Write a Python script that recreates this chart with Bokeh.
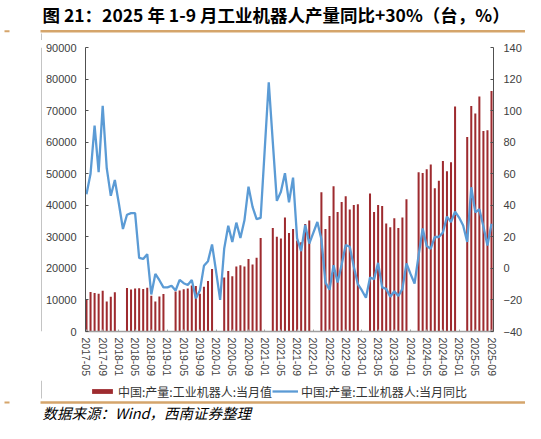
from bokeh.plotting import figure
from bokeh.layouts import column, row
from bokeh.models import (Range1d, LinearAxis, FixedTicker, Label, Legend, LegendItem,
                          ColumnDataSource, NumeralTickFormatter)
from bokeh.embed import file_html
from bokeh.resources import INLINE

nan = float("nan")

# 2017-05 ... 2025-09 (monthly); Jan/Feb have no monthly production value
output_units = [
    10100, 12500, 12200, 12000, 12900, 9500, 11000, 12400,              # 2017-05..12
    nan, nan, 13800, 13300, 13600, 13700, 13500, 13900, 11300, 9500, 11100, 11900,   # 2018
    nan, nan, 12700, 13000, 13400, 13600, 14600, 14400, 12000, 14200, 16000, 19800,  # 2019
    nan, nan, 17100, 19200, 17500, 20600, 21000, 20600, 23000, 21200, 23400, 29600,  # 2020
    nan, nan, 32800, 30000, 29500, 36100, 31200, 32500, 28800, 28300, 34100, 35200,  # 2021
    nan, nan, 44100, 32500, 36600, 46000, 37900, 41000, 42900, 38700, 40100, 40300,  # 2022
    nan, nan, 43700, 37900, 40100, 39800, 34200, 33000, 35900, 32800, 36100, 41900,  # 2023
    nan, nan, 50500, 50200, 51400, 52900, 45400, 47800, 54000, 50800, 53600, 71300,  # 2024
    nan, nan, 61600, 71500, 69100, 74500, 63500, 63800, 76200,                        # 2025
]

yoy_pct = [
    47, 60, 90.5, 61, 103, 63.5, 46, 56,
    41, 25, 34, 35, 35, 6.7, 6, 9, -16.5, -3.5, -7.5, -12,
    -12, -11, -14, -7.3, -9.4, -10.5, -7.3, -19, -14, 1.6, 4.6, 15.2,
    -2, -20, 12.5, 27, 16.7, 29, 19.3, 30.5, 51.8, 39, 31.2, 32,
    75, 118, 80, 42.8, 48.6, 60.3, 41.8, 57.5, 19, 11, 27.5, 15.7,
    22.5, 29.4, 18.5, -9, -13.5, 2, -9, 2.4, 14.8, 13.7, 1, -10,
    -14, -18.6, -5.8, -6.8, 3.5, -12, -13, -18, -14.5, -17.5, -13, 3.1,
    -3.5, -9.6, 8.2, 25.3, 14.2, 12.5, 19.9, 19.9, 22.8, 32.8, 29.4, 36,
    32.2, 27.2, 16.7, 51.4, 35.5, 37.5, 26.5, 14.5, 28.3,
]

tick_labels = [
    "2017-05", "2017-09", "2018-01", "2018-05", "2018-09", "2019-01", "2019-05",
    "2019-09", "2020-01", "2020-05", "2020-09", "2021-01", "2021-05", "2021-09",
    "2022-01", "2022-05", "2022-09", "2023-01", "2023-05", "2023-09", "2024-01",
    "2024-05", "2024-09", "2025-01", "2025-05", "2025-09",
]

title_text = "图 21：2025 年 1-9 月工业机器人产量同比+30%（台，%）"
source_text = "数据来源：Wind，西南证券整理"
bar_label = "中国:产量:工业机器人:当月值"
line_label = "中国:产量:工业机器人:当月同比"

BAR_COLOR = "#9E2B2F"
LINE_COLOR = "#5B9BD5"
TAN = "#D5A56B"
GRAY = "#C4C4C4"
CJK = "Noto Sans CJK SC"
TICK_FONT = "Liberation Sans"
LAB_COL = "#404040"

W = 525
TOP_H, MAIN_H, BOT_H, LEFT_W = 40, 340, 43, 42


def blank(width, height, y_top):
    f = figure(width=width, height=height, output_backend="svg", toolbar_location=None,
               title=None, x_axis_type=None, y_axis_type=None,
               x_range=Range1d(0, width), y_range=Range1d(y_top + height, y_top),
               min_border=0)
    f.outline_line_color = None
    f.xgrid.visible = False
    f.ygrid.visible = False
    f.background_fill_color = "white"
    f.border_fill_color = "white"
    return f


# ---- header strip: title and tan rule
top = blank(W, TOP_H, 0)
top.add_layout(Label(x=42, y=14, text=title_text, text_font=CJK, text_font_size="17.5px",
                     text_font_style="bold", text_color="black", text_baseline="middle",
                     text_align="left"))
top.segment(x0=[40], y0=[30.8], x1=[W], y1=[30.8], line_color=TAN, line_width=2.5)
top.segment(x0=[4], y0=[30.8], x1=[9], y1=[30.8], line_color=TAN, line_width=2)
top.segment(x0=[41], y0=[33], x1=[41], y1=[TOP_H], line_color=GRAY, line_width=1)

# ---- left strip: frame line
left = blank(LEFT_W, MAIN_H, TOP_H)
left.segment(x0=[41], y0=[TOP_H], x1=[41], y1=[TOP_H + MAIN_H], line_color=GRAY,
             line_width=1)

# ---- main chart
month_idx = list(range(len(output_units)))
src = ColumnDataSource(dict(x=month_idx, v=output_units, r=yoy_pct))

p = figure(width=W - LEFT_W, height=MAIN_H, output_backend="svg", toolbar_location=None,
           title=None, x_range=Range1d(-0.245, 100.49), y_range=Range1d(0, 90000),
           min_border_left=41, min_border_right=30, min_border_top=7, min_border_bottom=49)
p.outline_line_color = None
p.xgrid.visible = False
p.ygrid.visible = False
p.background_fill_color = "white"
p.border_fill_color = "white"
p.extra_y_ranges = {"yoy": Range1d(-40, 140)}

bars = p.vbar(x="x", top="v", width=0.5, source=src, fill_color=BAR_COLOR, line_color=None)
line = p.line(x="x", y="r", source=src, y_range_name="yoy", line_color=LINE_COLOR,
              line_width=2.3)

xa = p.xaxis[0]
xa.ticker = FixedTicker(ticks=list(range(0, 101, 4)))
xa.major_label_overrides = {i * 4: t for i, t in enumerate(tick_labels)}
xa.major_label_orientation = "vertical"
xa.major_label_text_font = TICK_FONT
xa.major_label_text_font_size = "10.5px"
xa.major_label_text_color = LAB_COL
xa.major_label_standoff = 6
xa.axis_line_color = "#A0A0A0"
xa.axis_line_width = 1.5
xa.major_tick_in = 2
xa.major_tick_out = 0
xa.major_tick_line_color = "#A0A0A0"
xa.minor_tick_line_color = None

ya = p.yaxis[0]
ya.ticker = FixedTicker(ticks=list(range(0, 90001, 10000)))
ya.formatter = NumeralTickFormatter(format="0")
ya.major_label_text_font = TICK_FONT
ya.major_label_text_font_size = "11px"
ya.major_label_text_color = LAB_COL
ya.major_label_standoff = 9
ya.axis_line_color = "#505050"
ya.major_tick_in = 3
ya.major_tick_out = 0
ya.major_tick_line_color = "#505050"
ya.minor_tick_line_color = None

ra = LinearAxis(y_range_name="yoy", ticker=FixedTicker(ticks=list(range(-40, 141, 20))))
ra.major_label_text_font = TICK_FONT
ra.major_label_text_font_size = "11px"
ra.major_label_text_color = LAB_COL
ra.major_label_standoff = 10
ra.axis_line_color = "#505050"
ra.major_tick_in = 3
ra.major_tick_out = 0
ra.major_tick_line_color = "#505050"
ra.minor_tick_line_color = None
p.add_layout(ra, "right")

# ---- footer strip: legend, tan rule, source
bot = blank(W, BOT_H, TOP_H + MAIN_H)
bot.segment(x0=[41], y0=[TOP_H + MAIN_H], x1=[41], y1=[398], line_color=GRAY,
            line_width=1)
bot.segment(x0=[40], y0=[402], x1=[W], y1=[402], line_color=TAN, line_width=2.5)
bot.segment(x0=[4], y0=[402], x1=[9], y1=[402], line_color=TAN, line_width=2)
# legend swatches (no visible data, styled like the chart series)
sw_bar = bot.vbar(x=[nan], top=[nan], width=1, fill_color=BAR_COLOR, line_color=None)
sw_line = bot.line(x=[nan], y=[nan], line_color=LINE_COLOR, line_width=2.3)
legend = Legend(items=[LegendItem(label=bar_label, renderers=[sw_bar]),
                       LegendItem(label=line_label, renderers=[sw_line])],
                orientation="horizontal", location=(89, 22), padding=0, margin=0,
                spacing=0, glyph_width=26, glyph_height=6, label_standoff=3,
                label_height=20, border_line_color=None, background_fill_alpha=0,
                label_text_font=CJK, label_text_font_size="12px",
                label_text_color="#333333")
bot.add_layout(legend, "center")
bot.add_layout(Label(x=42, y=412, text=source_text, text_font=CJK, text_font_size="14.5px",
                     text_font_style="italic", text_color="black", text_baseline="middle",
                     text_align="left"))

layout = column(top, row(left, p, spacing=0), bot, spacing=0)

open("out.html", "w").write(file_html(layout, INLINE))
